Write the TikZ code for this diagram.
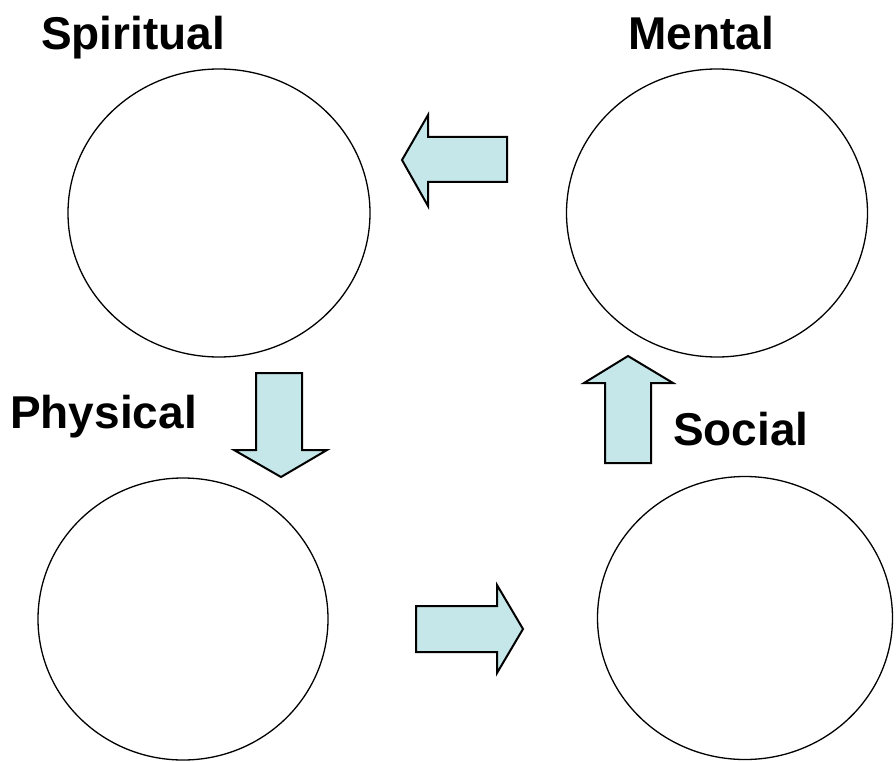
\documentclass[tikz,border=0pt]{standalone}
\usepackage{fontspec}
\setmainfont{Liberation Sans}
\usetikzlibrary{shapes.geometric}
\definecolor{arrowfill}{RGB}{198,231,233}
\begin{document}
\begin{tikzpicture}[x=1pt,y=-1pt,
  area/.style={draw=black,line width=1.3pt,ellipse,inner sep=0pt},
  blockarrow/.style={draw=black,fill=arrowfill,line width=2pt,line join=miter},
  title/.style={anchor=base west,inner sep=0pt,font=\fontsize{46}{50}\selectfont\bfseries}]
\useasboundingbox (0,0) rectangle (896,762);

% the four areas
\node[area,minimum width=302pt,minimum height=288pt] (spiritual) at (219,213) {};
\node[area,minimum width=301pt,minimum height=288pt] (mental) at (717,213) {};
\node[area,minimum width=290pt,minimum height=282pt] (physical) at (183,619) {};
\node[area,minimum width=295pt,minimum height=283pt] (social) at (745,618) {};

% their titles
\node[title] (tspiritual) at (41,50) {Spiritual};
\node[title] (tmental) at (628,50) {Mental};
\node[title] (tphysical) at (10,428) {Physical};
\node[title] (tsocial) at (673,445) {Social};

% block arrows between the areas
\draw[blockarrow] (507,137) -- (428,137) -- (428,115) -- (402,160) -- (428,206)
  -- (428,182) -- (507,182) -- cycle;
\draw[blockarrow] (256,373) -- (302,373) -- (302,450) -- (327,450) -- (281,477)
  -- (234,450) -- (256,450) -- cycle;
\draw[blockarrow] (416,606) -- (497,606) -- (497,585) -- (523,629) -- (497,673)
  -- (497,652) -- (416,652) -- cycle;
\draw[blockarrow] (605,463) -- (605,383) -- (584,383) -- (628,356) -- (673,383)
  -- (651,383) -- (651,463) -- cycle;
\end{tikzpicture}
\end{document}
